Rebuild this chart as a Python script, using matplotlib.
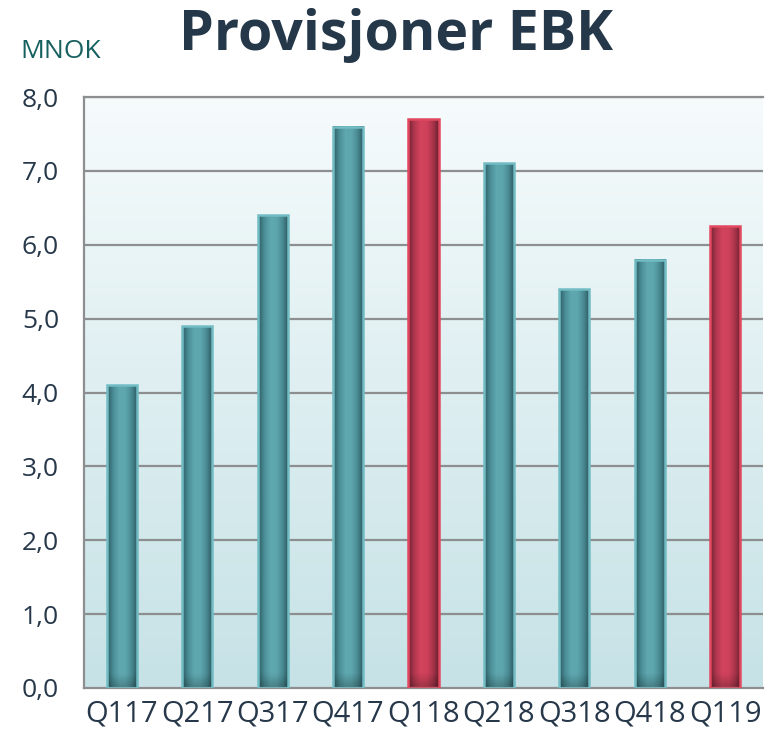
import numpy as np
import matplotlib
matplotlib.use('Agg')
import matplotlib.pyplot as plt
from matplotlib.colors import LinearSegmentedColormap

# data
quarters = ['Q117', 'Q217', 'Q317', 'Q417', 'Q118', 'Q218', 'Q318', 'Q418', 'Q119']
values = [4.1, 4.9, 6.4, 7.6, 7.7, 7.1, 5.4, 5.8, 6.25]
highlight = [False, False, False, False, True, False, False, False, True]
y_ticks = [0, 1, 2, 3, 4, 5, 6, 7, 8]
y_labels = ['0,0', '1,0', '2,0', '3,0', '4,0', '5,0', '6,0', '7,0', '8,0']

plt.rcParams['font.family'] = ['Open Sans', 'DejaVu Sans']

fig = plt.figure(figsize=(7.67, 7.34), dpi=100)
ax = fig.add_axes([84 / 767, 46 / 734, (763 - 84) / 767, (688 - 97) / 734])

n = len(quarters)
ax.set_xlim(0, n)
ax.set_ylim(0, 8)

# bakgrunn: nesten hvit oppe, lys turkis nede
bg = LinearSegmentedColormap.from_list('bg', ['#c6e2e6', '#f6fbfc'])
ax.imshow(np.linspace(0, 1, 256).reshape(-1, 1), aspect='auto', cmap=bg,
          extent=(0, n, 0, 8), origin='lower', zorder=0)

for yv in y_ticks[1:]:
    ax.axhline(yv, color='#8c8e90', lw=1.6, zorder=1)

teal_cmap = LinearSegmentedColormap.from_list(
    'teal', ['#2c5a62', '#4b8e96', '#5fa8b0', '#5ea6ae', '#4a8b93', '#2a545c'])
red_cmap = LinearSegmentedColormap.from_list(
    'red', ['#6e2232', '#b1384f', '#d2435c', '#d0425b', '#ad364d', '#6a2030'])

width = 0.4
xs = np.linspace(0, 1, 64)
prof = np.tile(xs, (128, 1))
vert = np.linspace(0, 1, 128).reshape(-1, 1)
for i, (v, hl) in enumerate(zip(values, highlight)):
    x0 = i + 0.5 - width / 2
    cmap = red_cmap if hl else teal_cmap
    img = cmap(prof)
    # litt mørkere helt nederst i søylen
    shade = 0.78 + 0.22 * np.clip(vert * v / 0.18, 0, 1)
    img[..., :3] *= shade[..., None]
    ax.imshow(img, aspect='auto', extent=(x0, x0 + width, 0, v),
              origin='lower', zorder=2, interpolation='bilinear')
    ax.bar(i + 0.5, v, width=width, facecolor='none',
           edgecolor='#e2485f' if hl else '#72bcc4', lw=1.8, zorder=3)

ax.set_xticks(np.arange(n) + 0.5)
ax.set_xticklabels(quarters, fontsize=21, color='#26384a')
ax.set_yticks(y_ticks)
ax.set_yticklabels(y_labels, fontsize=19, color='#26384a')
ax.tick_params(axis='x', length=0, pad=8)
ax.tick_params(axis='y', length=0, pad=18)

for s in ['top', 'right']:
    ax.spines[s].set_visible(False)
for s in ['left', 'bottom']:
    ax.spines[s].set_color('#8c8e90')
    ax.spines[s].set_linewidth(1.6)
ax.axhline(8, color='#8c8e90', lw=1.6, zorder=1, clip_on=False)

fig.text(0.516, 0.952, 'Provisjoner EBK', ha='center', va='center',
         fontsize=40, fontweight='bold', color='#24384a')
fig.text(0.026, 0.930, 'MNOK', ha='left', va='center', fontsize=19, color='#176060')

fig.savefig('out.png', dpi=100)
